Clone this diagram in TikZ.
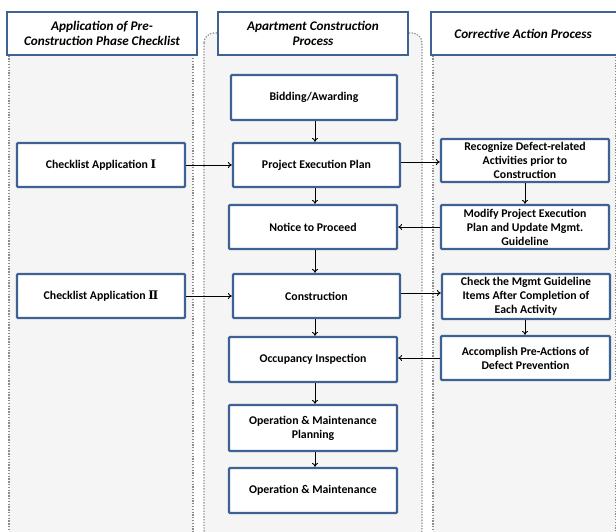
\documentclass[tikz,border=0pt]{standalone}
\usepackage{fontspec}
\setmainfont{Carlito}
\newfontfamily\romfont{DejaVu Serif}
\usetikzlibrary{arrows.meta}
\definecolor{boxblue}{HTML}{3F6294}
\definecolor{lanefill}{HTML}{F5F5F5}
\definecolor{dotgray}{HTML}{8C8C8C}
\tikzset{
  stepbox/.style={draw=boxblue, line width=2.2pt, fill=white, rounded corners=1pt,
    align=center, font=\bfseries\fontsize{11.8}{14}\selectfont, inner sep=1pt},
  headbox/.style={draw=boxblue, line width=2.2pt, fill=white, align=center,
    font=\bfseries\itshape\fontsize{13.2}{15.5}\selectfont, inner sep=1pt},
  lane/.style={draw=dotgray, fill=lanefill, line width=1.2pt, dash pattern=on 1.3pt off 1.5pt},
  arr/.style={draw=black, line width=0.9pt, -{To[length=4pt,width=6pt]}}
}
\begin{document}
\begin{tikzpicture}[x=1pt,y=-1pt]
\useasboundingbox (0,0) rectangle (616,532);
% lanes
\path[lane] (9,50) rectangle (193,545);
\path[lane, rounded corners=10pt] (204,33) rectangle (422,540);
\path[lane] (433,50) rectangle (616,545);
% headers
\node[headbox, minimum width=190pt, minimum height=43pt] (h1) at (102,33.5) {Application of Pre-\\Construction Phase Checklist};
\node[headbox, minimum width=190pt, minimum height=43pt] (h2) at (313,33.5) {Apartment Construction\\Process};
\node[headbox, minimum width=200pt, minimum height=43pt, anchor=west] (h3) at (430,33.5) {\hspace*{-16pt}Corrective Action Process};
% left column
\node[stepbox, minimum width=168pt, minimum height=44pt] (ca1) at (101,165) {Checklist Application {\romfont Ⅰ}};
\node[stepbox, minimum width=168pt, minimum height=44pt] (ca2) at (101,296) {Checklist Application {\romfont Ⅱ}};
% middle column
\node[stepbox, minimum width=166pt, minimum height=45pt] (bid) at (314,97.5) {Bidding/Awarding};
\node[stepbox, minimum width=167pt, minimum height=44pt] (pep) at (316.5,165) {Project Execution Plan};
\node[stepbox, minimum width=168pt, minimum height=44pt] (ntp) at (313,227) {Notice to Proceed};
\node[stepbox, minimum width=167pt, minimum height=44pt] (con) at (316.5,296) {Construction};
\node[stepbox, minimum width=168pt, minimum height=45pt] (occ) at (313,359.5) {Occupancy Inspection};
\node[stepbox, minimum width=168pt, minimum height=46pt] (omp) at (313,428) {Operation \& Maintenance\\Planning};
\node[stepbox, minimum width=168pt, minimum height=45pt] (om) at (313,490.5) {Operation \& Maintenance};
% right column
\node[stepbox, minimum width=168pt, minimum height=43pt] (rec) at (525,160.5) {Recognize Defect-related\\Activities prior to\\Construction};
\node[stepbox, minimum width=168pt, minimum height=44pt] (mod) at (525,227) {Modify Project Execution\\Plan and Update Mgmt.\\Guideline};
\node[stepbox, minimum width=168pt, minimum height=45pt] (chk) at (526,296.5) {Check the Mgmt Guideline\\Items After Completion of\\Each Activity};
\node[stepbox, minimum width=169pt, minimum height=44pt] (acc) at (525.5,358) {Accomplish Pre-Actions of\\Defect Prevention};
% connectors
\coordinate (vx) at (315,0);
\draw[arr] (bid.south -| vx) -- (pep.north -| vx);
\draw[arr] (pep.south -| vx) -- (ntp.north -| vx);
\draw[arr] (ntp.south -| vx) -- (con.north -| vx);
\draw[arr] (con.south -| vx) -- (occ.north -| vx);
\draw[arr] (occ.south -| vx) -- (omp.north -| vx);
\draw[arr] (omp.south -| vx) -- (om.north -| vx);
\draw[arr] (ca1.east) -- (pep.west);
\draw[arr] (ca2.east) -- (con.west);
\coordinate (ry1) at (0,162);
\draw[arr] (pep.east |- ry1) -- (rec.west |- ry1);
\draw[arr] (rec.south) -- (mod.north);
\draw[arr] (mod.west) -- (ntp.east);
\coordinate (ry2) at (0,293);
\draw[arr] (con.east |- ry2) -- (chk.west |- ry2);
\draw[arr] (chk.south -| rec.south) -- (acc.north -| rec.south);
\draw[arr] (acc.west) -- (acc.west -| occ.east);
\end{tikzpicture}
\end{document}
